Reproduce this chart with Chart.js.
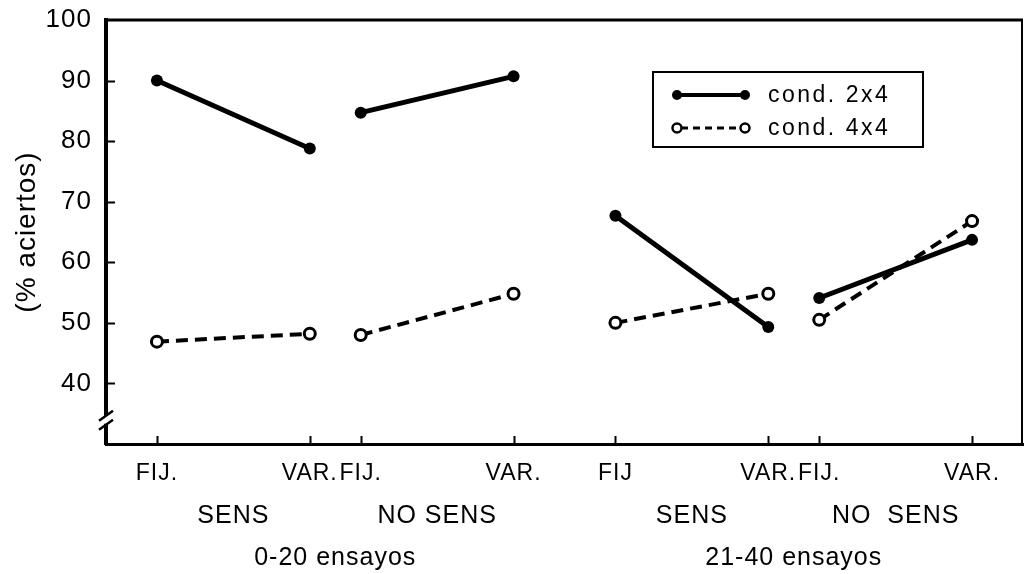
<!DOCTYPE html>
<html>
<head>
<meta charset="utf-8">
<script src="https://cdn.jsdelivr.net/npm/chart.js@4"></script>
<style>
  html, body { margin: 0; padding: 0; background: #fff; }
  #wrap { width: 1024px; height: 574px; position: relative; }
</style>
</head>
<body>
<div id="wrap"><canvas id="chart"></canvas></div>
<script>
const X_LABELS = ["FIJ.", "VAR.", "FIJ.", "VAR.", "FIJ", "VAR.", "FIJ.", "VAR."];
const X_POSITIONS = [1, 4, 5, 8, 10, 13, 14, 17];
const COND_LABELS = ["SENS", "NO SENS", "SENS", "NO  SENS"];
const COND_POSITIONS = [2.5, 6.5, 11.5, 15.5];
const BLOCK_LABELS = ["0-20 ensayos", "21-40 ensayos"];
const BLOCK_POSITIONS = [4.5, 13.5];
const COND_2X4 = [90, 78.8, 84.7, 90.7, 67.7, 49.3, 54.1, 63.7];
const COND_4X4 = [46.9, 48.2, 48.0, 54.8, 50.0, 54.8, 50.5, 66.8];
const Y_TICKS = [40, 50, 60, 70, 80, 90];

const FONT = "'Liberation Sans', Arial, sans-serif";
Chart.defaults.font.family = FONT;
Chart.defaults.color = "#000";

/* ---------- helpers ---------- */

// each FIJ./VAR. pair is its own segment, so break the line between pairs
function toSegments(values) {
  const pts = [];
  values.forEach((v, i) => {
    pts.push({ x: X_POSITIONS[i], y: v });
    if (i % 2 === 1 && i < values.length - 1) {
      pts.push({ x: (X_POSITIONS[i] + X_POSITIONS[i + 1]) / 2, y: null });
    }
  });
  return pts;
}

function xTickLabel(value) {
  let i = X_POSITIONS.indexOf(value);
  if (i >= 0) return X_LABELS[i];
  i = COND_POSITIONS.indexOf(value);
  if (i >= 0) return ["", COND_LABELS[i]];
  i = BLOCK_POSITIONS.indexOf(value);
  if (i >= 0) return ["", "", BLOCK_LABELS[i]];
  return "";
}

/* ---------- frame, ticks, axis break, legend ---------- */

const framePlugin = {
  id: "frame",
  beforeDraw(chart) {
    chart.ctx.letterSpacing = "1px";
  },
  afterDraw(chart) {
    const ctx = chart.ctx;
    const { left, right, top, bottom } = chart.chartArea;
    const xs = chart.scales.x;
    const ys = chart.scales.y;
    ctx.save();
    ctx.strokeStyle = "#000";
    ctx.lineCap = "butt";

    // top + right frame
    ctx.lineWidth = 3;
    ctx.beginPath();
    ctx.moveTo(left, top);
    ctx.lineTo(right, top);
    ctx.stroke();
    ctx.lineWidth = 2;
    ctx.beginPath();
    ctx.moveTo(right - 1, top);
    ctx.lineTo(right - 1, bottom);
    ctx.stroke();

    // inward y ticks
    ctx.lineWidth = 2;
    Y_TICKS.forEach((v) => {
      const py = Math.round(ys.getPixelForValue(v)) + 0.5;
      ctx.beginPath();
      ctx.moveTo(left, py);
      ctx.lineTo(left + 9, py);
      ctx.stroke();
    });

    // upward x ticks
    X_POSITIONS.forEach((v) => {
      const px = Math.round(xs.getPixelForValue(v)) + 0.5;
      ctx.beginPath();
      ctx.moveTo(px, bottom);
      ctx.lineTo(px, bottom - 8);
      ctx.stroke();
    });

    // axis break
    const by = ys.getPixelForValue(34);
    ctx.fillStyle = "#fff";
    ctx.fillRect(left - 4, by - 4, 8, 8);
    ctx.lineWidth = 2.5;
    [-4, 5].forEach((d) => {
      ctx.beginPath();
      ctx.moveTo(left - 7, by + d + 5);
      ctx.lineTo(left + 7, by + d - 5);
      ctx.stroke();
    });

    // legend box
    const bx = left + 547, byy = top + 52, bw = 270, bh = 75;
    ctx.lineWidth = 2;
    ctx.strokeRect(bx, byy, bw, bh);
    const rows = [top + 75, top + 108];
    const x0 = bx + 24, x1 = bx + 92;
    ctx.font = "23px " + FONT;
    ctx.letterSpacing = "2.5px";
    ctx.textBaseline = "middle";
    ctx.textAlign = "left";
    ctx.fillStyle = "#000";

    // row 1: solid, filled dots
    ctx.lineWidth = 4;
    ctx.beginPath();
    ctx.moveTo(x0, rows[0]);
    ctx.lineTo(x1, rows[0]);
    ctx.stroke();
    [x0, x1].forEach((px) => {
      ctx.beginPath();
      ctx.arc(px, rows[0], 5, 0, Math.PI * 2);
      ctx.fill();
    });
    ctx.fillText(chart.data.datasets[0].label, bx + 115, rows[0] + 1);

    // row 2: dashed, open dots
    ctx.lineWidth = 3;
    ctx.setLineDash([7, 5]);
    ctx.beginPath();
    ctx.moveTo(x0 + 4, rows[1]);
    ctx.lineTo(x1 - 4, rows[1]);
    ctx.stroke();
    ctx.setLineDash([]);
    ctx.lineWidth = 2.5;
    [x0, x1].forEach((px) => {
      ctx.beginPath();
      ctx.arc(px, rows[1], 4.5, 0, Math.PI * 2);
      ctx.fillStyle = "#fff";
      ctx.fill();
      ctx.stroke();
    });
    ctx.fillStyle = "#000";
    ctx.fillText(chart.data.datasets[1].label, bx + 115, rows[1] + 1);
    ctx.restore();
  },
};

/* ---------- chart ---------- */

new Chart(document.getElementById("chart"), {
  type: "line",
  data: {
    datasets: [
      {
        label: "cond. 2x4",
        data: toSegments(COND_2X4),
        borderColor: "#000",
        borderWidth: 5,
        pointRadius: 6,
        pointBackgroundColor: "#000",
        pointBorderWidth: 0,
        spanGaps: false,
      },
      {
        label: "cond. 4x4",
        data: toSegments(COND_4X4),
        borderColor: "#000",
        borderWidth: 4,
        borderDash: [12, 7],
        pointRadius: 5.5,
        pointBackgroundColor: "#fff",
        pointBorderColor: "#000",
        pointBorderWidth: 3,
        spanGaps: false,
      },
    ],
  },
  options: {
    responsive: true,
    maintainAspectRatio: false,
    animation: false,
    layout: { autoPadding: false, padding: { top: 20, right: 1, left: 0, bottom: 0 } },
    plugins: { legend: { display: false }, tooltip: { enabled: false } },
    scales: {
      x: {
        type: "linear",
        min: 0,
        max: 18,
        grid: { display: false, drawTicks: false },
        border: { color: "#000", width: 3 },
        afterBuildTicks: (s) => {
          s.ticks = [...X_POSITIONS, ...COND_POSITIONS, ...BLOCK_POSITIONS].map((v) => ({ value: v }));
        },
        afterFit: (s) => {
          s.height = 130;
          s.paddingLeft = 0;
          s.paddingRight = 0;
        },
        ticks: {
          autoSkip: false,
          maxRotation: 0,
          padding: 9,
          font: (c) => {
            const size = c.tick && X_POSITIONS.includes(c.tick.value) ? 23 : 25;
            return { size, lineHeight: 42 / size };
          },
          callback: (v) => xTickLabel(v),
        },
      },
      y: {
        min: 30,
        max: 100,
        grid: { display: false, drawTicks: false },
        border: { color: "#000", width: 4 },
        afterFit: (s) => {
          s.width = 106;
          s.paddingTop = 0;
          s.paddingBottom = 0;
        },
        ticks: {
          stepSize: 10,
          padding: 14,
          font: { size: 26 },
          callback: (v) => (v >= 40 ? v : ""),
        },
        title: {
          display: true,
          text: "(% aciertos)",
          font: { size: 28 },
          padding: { top: 10, bottom: 0 },
        },
      },
    },
  },
  plugins: [framePlugin],
});
</script>
</body>
</html>
